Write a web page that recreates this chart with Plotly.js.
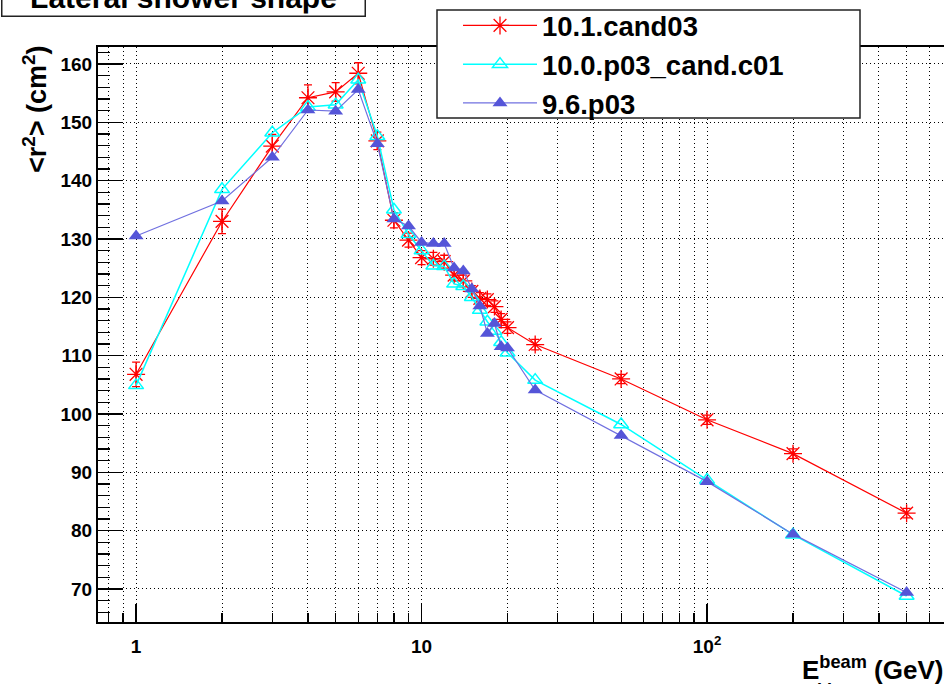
<!DOCTYPE html>
<html><head><meta charset="utf-8">
<script src="https://cdn.plot.ly/plotly-3.0.1.min.js"></script>
<style>html,body{margin:0;padding:0;overflow:hidden;background:#fff}</style>
</head><body><div id="chart" style="width:944px;height:684px"></div>
<script>
// ---- data ----
const energies = [1,2,3,4,5,6,7,8,9,10,11,12,13,14,15,16,17,18,19,20,25,50,100,200,500];
const r2_v101 = [106.8,133.0,145.9,154.2,155.2,158.4,146.8,133.2,129.8,126.8,126.6,126.1,123.8,122.8,121.0,119.8,119.6,118.4,116.2,114.8,111.9,106.0,99.0,93.2,83.0];
const r2_v101_err = [2.1,2.1,2.0,2.2,1.6,1.8,1.5,1.3,1.2,1.2,1.1,1.1,1.0,1.0,1.0,1.0,1.0,1.0,1.0,1.0,0.9,0.8,0.8,0.8,0.8];
const r2_v100 = [104.9,138.5,148.2,152.6,153.0,157.3,147.6,135.0,130.8,128.0,125.4,125.3,122.3,121.9,120.0,117.8,115.8,114.2,112.3,110.5,105.8,98.2,88.7,79.3,68.8];
const r2_v96 = [130.5,136.5,144.0,152.1,151.9,155.6,146.3,133.4,132.2,129.4,129.2,129.2,125.0,124.5,121.4,118.5,113.8,115.5,111.5,111.3,104.1,96.3,88.4,79.4,69.4];
const seriesNames = ['10.1.cand03','10.0.p03_cand.c01','9.6.p03'];
const xMajorTicks = [1,10,100];
const xMajorLabels = ['1','10','10<sup>2</sup>'];
const xMinorTicks = [0.8,0.9,2,3,4,5,6,7,8,9,20,30,40,50,60,70,80,90,200,300,400,500,600,700];
const yTicks = [70,80,90,100,110,120,130,140,150,160];
const chartTitle = 'Lateral shower shape';
const yTitle = '&lt;r<sup>2</sup>&gt; (cm<sup>2</sup>)';
const xTitleMain = 'E<sup>beam</sup> (GeV)';
const xTitleSub = 'kin';

// ---- layout helpers (pixel -> paper) ----
const W = 944, H = 684, L = 98, R = 0, T = 47, B = 62;
const pw = W - L - R, ph = H - T - B;
const px = x => (x - L) / pw;
const py = y => 1 - (y - T) / ph;

const FONT = 'Liberation Sans, Arial, sans-serif';
const traces = [
  {x: energies, y: r2_v101, name: seriesNames[0], type: 'scatter', mode: 'lines+markers',
   line: {color: '#ff0000', width: 1.2},
   marker: {symbol: 'asterisk-open', size: 15, color: '#ff0000', line: {color: '#ff0000', width: 1.3}},
   error_y: {type: 'data', array: r2_v101_err, visible: true, color: '#ff0000', thickness: 1.3, width: 4}},
  {x: energies, y: r2_v100, name: seriesNames[1], type: 'scatter', mode: 'lines+markers',
   line: {color: '#00ffff', width: 1.5},
   marker: {symbol: 'triangle-up-open', size: 13, color: '#00ffff', line: {color: '#00ffff', width: 1.5}}},
  {x: energies, y: r2_v96, name: seriesNames[2], type: 'scatter', mode: 'lines+markers',
   line: {color: '#7070e0', width: 1.2},
   marker: {symbol: 'triangle-up', size: 13, color: '#5555d8', line: {width: 0}}}
];

const layout = {
  width: W, height: H,
  margin: {l: L, r: R, t: T, b: B, pad: 0},
  paper_bgcolor: '#fff', plot_bgcolor: '#fff',
  font: {family: FONT, color: '#000'},
  showlegend: true,
  legend: {x: px(458), y: py(1), xanchor: 'left', yanchor: 'top',
           bgcolor: 'rgba(0,0,0,0)', borderwidth: 0, itemwidth: 74,
           font: {family: FONT, size: 27.5, weight: 700, color: '#000'}},
  xaxis: {type: 'log', range: [Math.log10(0.7355), Math.log10(676)],
          tickmode: 'array', tickvals: xMajorTicks, ticktext: xMajorLabels,
          ticks: 'inside', ticklen: 18, tickwidth: 1.2, tickcolor: '#000',
          tickfont: {family: FONT, size: 19, weight: 700},
          ticklabelstandoff: 6,
          showline: true, linecolor: '#000', linewidth: 2, mirror: true,
          showgrid: true, gridcolor: '#000', gridwidth: 1, griddash: '1px,3px',
          zeroline: false,
          minor: {tickmode: 'array', tickvals: xMinorTicks, ticks: 'inside', ticklen: 9,
                  tickwidth: 1.2, tickcolor: '#000',
                  showgrid: true, gridcolor: '#000', gridwidth: 1, griddash: '1px,3px'}},
  yaxis: {range: [64.34, 162.9], tickmode: 'array', tickvals: yTicks,
          ticks: 'inside', ticklen: 25, tickwidth: 1.2, tickcolor: '#000',
          tickfont: {family: FONT, size: 19, weight: 700},
          showline: true, linecolor: '#000', linewidth: 2, mirror: false,
          showgrid: true, gridcolor: '#000', gridwidth: 1, griddash: '1px,3px',
          zeroline: false,
          minor: {dtick: 2, ticks: 'inside', ticklen: 12, tickwidth: 1.2, tickcolor: '#000', showgrid: false}},
  shapes: [
    {type: 'rect', xref: 'paper', yref: 'paper', layer: 'above',
     x0: px(437), x1: px(860), y0: py(118), y1: py(10),
     fillcolor: '#fff', line: {color: '#222', width: 1.5}}
  ],
  annotations: [
    {text: chartTitle, xref: 'paper', yref: 'paper', x: px(1), y: py(17),
     xanchor: 'left', yanchor: 'bottom', showarrow: false, width: 358, align: 'center',
     bgcolor: '#fff', bordercolor: '#222', borderwidth: 1.5, borderpad: 2,
     font: {family: FONT, size: 30, weight: 700, color: '#000'}},
    {text: yTitle, xref: 'paper', yref: 'paper', x: px(35), y: py(109),
     xanchor: 'center', yanchor: 'middle', textangle: -90, showarrow: false,
     font: {family: FONT, size: 27, weight: 700, color: '#000'}},
    {text: xTitleMain, xref: 'paper', yref: 'paper', x: px(945), y: py(668),
     xanchor: 'right', yanchor: 'middle', showarrow: false,
     font: {family: FONT, size: 26, weight: 700, color: '#000'}},
    {text: xTitleSub, xref: 'paper', yref: 'paper', x: px(815), y: py(690),
     xanchor: 'left', yanchor: 'middle', showarrow: false,
     font: {family: FONT, size: 18, weight: 700, color: '#000'}}
  ]
};

Plotly.newPlot('chart', traces, layout, {displayModeBar: false, staticPlot: true});
</script></body></html>
